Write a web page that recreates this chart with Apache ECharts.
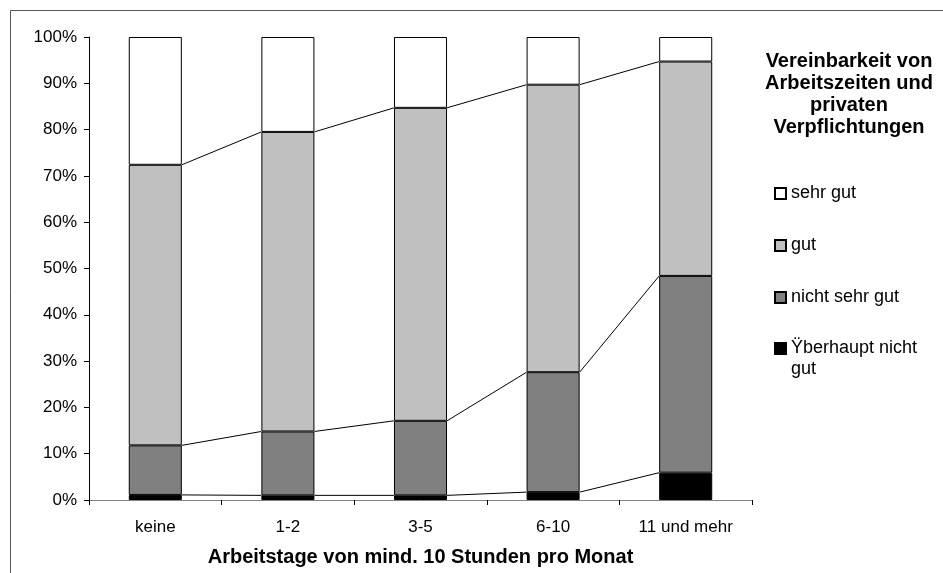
<!DOCTYPE html>
<html>
<head>
<meta charset="utf-8">
<script src="https://cdn.jsdelivr.net/npm/echarts@6/dist/echarts.min.js"></script>
<style>
  html, body { margin: 0; padding: 0; background: #fff; }
  #chart { width: 943px; height: 573px; }
</style>
</head>
<body>
<div id="chart"></div>
<script>
// Working days of at least 10 hours per month
const categories = ['keine', '1-2', '3-5', '6-10', '11 und mehr'];

// Share of answers per category (percent), stacked bottom to top
const ueberhauptNicht = [1.1, 1.0, 1.0, 1.7, 5.9];
const nichtSehrGut = [10.7, 13.8, 16.1, 25.9, 42.5];
const gut = [60.6, 64.7, 67.6, 62.1, 46.3];
const sehrGut = [27.6, 20.5, 15.3, 10.3, 5.3];

const yTicks = [0, 10, 20, 30, 40, 50, 60, 70, 80, 90, 100];

const FONT = '"Liberation Sans", Arial, sans-serif';
const BAR_FRACTION = 0.4;

const names = ['Ÿberhaupt nicht gut', 'nicht sehr gut', 'gut', 'sehr gut'];
const colors = ['#000000', '#808080', '#c0c0c0', '#ffffff'];
const values = [ueberhauptNicht, nichtSehrGut, gut, sehrGut];

// Cumulative top of the lower three segments, used for the series lines
const cumulative = categories.map((_, i) => {
  let s = 0;
  return [0, 1, 2].map(k => (s += values[k][i]));
});
const seriesLineData = categories.slice(0, -1).map((_, i) =>
  [i].concat(cumulative[i], cumulative[i + 1]));

const barSeries = names.map((name, k) => ({
  name: name,
  type: 'bar',
  stack: 'total',
  barCategoryGap: '60%',
  data: values[k],
  itemStyle: { color: colors[k], borderColor: '#000', borderWidth: 1 },
  emphasis: { disabled: true },
  animation: false
}));

const linesSeries = {
  type: 'custom',
  silent: true,
  animation: false,
  data: seriesLineData,
  encode: { x: 0, y: [1, 2, 3] },
  renderItem: function (params, api) {
    const i = api.value(0);
    const half = api.size([1, 0])[0] * BAR_FRACTION / 2;
    const children = [];
    for (let k = 0; k < 3; k++) {
      const a = api.coord([i, api.value(1 + k)]);
      const b = api.coord([i + 1, api.value(4 + k)]);
      children.push({
        type: 'line',
        shape: { x1: a[0] + half, y1: a[1], x2: b[0] - half, y2: b[1] },
        style: { stroke: '#000', lineWidth: 1 }
      });
    }
    return { type: 'group', children: children };
  }
};

const legendText = { fontFamily: FONT, fontSize: 18, color: '#000', lineHeight: 21 };
function legendAt(name, top) {
  return {
    data: [name],
    left: 774,
    top: top,
    orient: 'vertical',
    padding: 0,
    itemWidth: 11,
    itemHeight: 11,
    itemGap: 6,
    selectedMode: false,
    icon: 'rect',
    textStyle: legendText,
    // the two-line entry keeps its first line level with the swatch
    formatter: function (n) { return n === 'Ÿberhaupt nicht gut' ? '\nŸberhaupt nicht\ngut' : n; }
  };
}

const chart = echarts.init(document.getElementById('chart'), null, { renderer: 'canvas' });
chart.setOption({
  backgroundColor: '#fff',
  animation: false,
  textStyle: { fontFamily: FONT },
  title: {
    text: 'Vereinbarkeit von\nArbeitszeiten und\nprivaten\nVerpflichtungen',
    left: 849,
    top: 50,
    textAlign: 'center',
    padding: 0,
    textStyle: { fontFamily: FONT, fontSize: 20, fontWeight: 'bold', color: '#000', lineHeight: 22 }
  },
  legend: [
    legendAt('sehr gut', 183),
    legendAt('gut', 235),
    legendAt('nicht sehr gut', 287),
    legendAt('Ÿberhaupt nicht gut', 317)
  ],
  graphic: [{
    type: 'rect',
    x: 10.5, y: 10.5,
    shape: { width: 1000, height: 1000 },
    style: { fill: 'none', stroke: '#555', lineWidth: 1 },
    silent: true,
    z: -1
  }],
  grid: { left: 89, right: 191, top: 37, bottom: 73, containLabel: false },
  xAxis: {
    type: 'category',
    data: categories,
    boundaryGap: true,
    name: 'Arbeitstage von mind. 10 Stunden pro Monat',
    nameLocation: 'middle',
    nameGap: 47,
    nameTextStyle: { fontFamily: FONT, fontSize: 20, fontWeight: 'bold', color: '#000' },
    axisLine: { lineStyle: { color: '#808080', width: 1 } },
    axisTick: { show: true, length: 5, alignWithLabel: false, lineStyle: { color: '#000' } },
    axisLabel: { fontFamily: FONT, fontSize: 17, color: '#000', margin: 19 },
    splitLine: { show: false }
  },
  yAxis: {
    type: 'value',
    min: yTicks[0],
    max: yTicks[yTicks.length - 1],
    interval: yTicks[1] - yTicks[0],
    axisLine: { show: true, lineStyle: { color: '#000', width: 1 } },
    axisTick: { show: true, length: 5, lineStyle: { color: '#000' } },
    axisLabel: { fontFamily: FONT, fontSize: 17, color: '#000', margin: 12, formatter: '{value}%' },
    splitLine: { show: false }
  },
  series: barSeries.concat([linesSeries])
});
</script>
</body>
</html>
